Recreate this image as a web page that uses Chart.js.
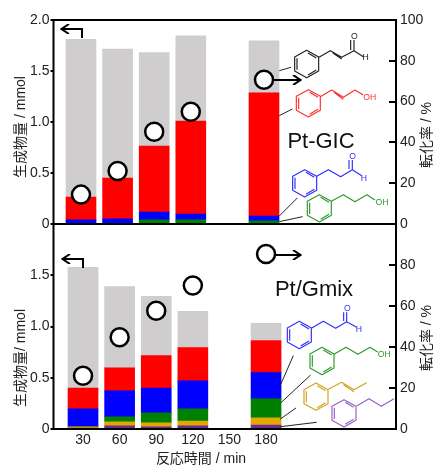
<!DOCTYPE html>
<html lang="ja">
<head>
<meta charset="utf-8">
<title>Pt-GIC / Pt/Gmix</title>
<script src="https://cdn.jsdelivr.net/npm/chart.js@4/dist/chart.umd.min.js"></script>
<style>
  html, body { margin: 0; padding: 0; background: #fff; }
  #wrap { position: relative; width: 434px; height: 465px; overflow: hidden; }
  canvas, svg { position: absolute; left: 0; }
  #chartTop { top: 0; }
  #chartBottom { top: 204px; }
  svg { top: 0; }
  .ring, .mol { fill: none; stroke-width: 3.5; stroke-linejoin: round; }
  .lead { stroke: #222; stroke-width: 3; fill: none; }
  .arrow { stroke: #000; fill: none; stroke-width: 2; }
  .atom { font: 26px "Liberation Sans", sans-serif; text-anchor: middle; stroke: none; }
  .axisTitle { font: 14px "Liberation Sans", "Noto Sans CJK JP", sans-serif; fill: #222; text-anchor: middle; }
  .catalyst { font: 22px "Liberation Sans", sans-serif; fill: #111; text-anchor: middle; }
</style>
</head>
<body>
<div id="wrap">
  <canvas id="chartTop" width="434" height="245"></canvas>
  <canvas id="chartBottom" width="434" height="261"></canvas>
  <svg width="434" height="465" viewBox="0 0 434 465">
    <defs>
      <g id="ring">
        <polygon class="ring" points="0,-41 36,-21 36,21 0,41 -36,21 -36,-21"/>
        <path class="ring" d="M-29,-17V17M4,-33L29,-18M4,33L29,18"/>
      </g>
      <marker id="head" markerWidth="10" markerHeight="10" refX="8" refY="5" orient="auto" markerUnits="userSpaceOnUse">
        <path d="M1,0L8.5,5L1,10" fill="none" stroke="#000" stroke-width="2"/>
      </marker>
    </defs>

    <!-- axis titles -->
    <text class="axisTitle" transform="translate(25,127) rotate(-90)">生成物量 / mmol</text>
    <text class="axisTitle" transform="translate(25,358) rotate(-90)">生成物量/ mmol</text>
    <text class="axisTitle" transform="translate(431,135) rotate(-90)">転化率 / %</text>
    <text class="axisTitle" transform="translate(431,338) rotate(-90)">転化率 / %</text>
    <text class="axisTitle" x="201" y="463">反応時間 / min</text>

    <!-- direction arrows -->
    <polyline class="arrow" points="82,38 82,29 62,29" marker-end="url(#head)"/>
    <polyline class="arrow" points="83,268 83,259 63,259" marker-end="url(#head)"/>
    <polyline class="arrow" points="274,80 300,80" marker-end="url(#head)"/>
    <polyline class="arrow" points="275,255 300,255" marker-end="url(#head)"/>

    <text class="catalyst" x="321" y="148">Pt-GIC</text>
    <text class="catalyst" x="314" y="296">Pt/Gmix</text>

    <!-- top panel structures -->
    <g transform="translate(220,0) scale(0.3333)">
      <g stroke="#222"><use href="#ring" x="260" y="192"/>
        <path class="mol" d="M297,172L331,152L365,172L402,152L430,170M402,152V120M392,150V120M338,158L365,177"/></g>
      <text class="atom" x="403" y="117" fill="#222">O</text>
      <text class="atom" x="437" y="181" fill="#222">H</text>
      <g stroke="#ff3030"><use href="#ring" x="265" y="310"/>
        <path class="mol" d="M301,290L335,270L370,292L405,270L430,285M342,277L370,298"/></g>
      <text class="atom" x="449" y="300" fill="#ff3030">OH</text>
      <g stroke="#3030ff"><use href="#ring" x="254" y="550"/>
        <path class="mol" d="M290,529L325,509L362,530L397,509L425,527M397,509V480M387,507V480"/></g>
      <text class="atom" x="398" y="477" fill="#3030ff">O</text>
      <text class="atom" x="432" y="542" fill="#3030ff">H</text>
      <g stroke="#2e9a2e"><use href="#ring" x="298" y="625"/>
        <path class="mol" d="M334,604L370,584L405,605L441,584L465,600"/></g>
      <text class="atom" x="486" y="615" fill="#2e9a2e">OH</text>
      <path class="lead" d="M178,212L213,202M178,347L217,327M178,648L232,594M178,665L248,650"/>
    </g>

    <!-- bottom panel structures -->
    <g transform="translate(220,225) scale(0.3333)">
      <g stroke="#3030ff"><use href="#ring" x="238" y="330"/>
        <path class="mol" d="M274,310L310,289L347,310L380,290L410,307M380,290V262M371,288V262"/></g>
      <text class="atom" x="382" y="259" fill="#3030ff">O</text>
      <text class="atom" x="417" y="322" fill="#3030ff">H</text>
      <g stroke="#2e9a2e"><use href="#ring" x="306" y="408"/>
        <path class="mol" d="M342,388L378,367L414,388L450,367L473,381"/></g>
      <text class="atom" x="493" y="397" fill="#2e9a2e">OH</text>
      <g stroke="#d6a21e"><use href="#ring" x="288" y="515"/>
        <path class="mol" d="M325,493L365,472L402,494L440,473M370,479L402,500"/></g>
      <g stroke="#9560c8"><use href="#ring" x="372" y="565"/>
        <path class="mol" d="M410,543L447,521L484,544L522,521"/></g>
      <path class="lead" d="M180,483L220,392M183,533L272,450M180,583L228,549M182,605L290,592"/>
    </g>
  </svg>
</div>

<script>
// reaction time of each bar, min
const timesTop = [30, 60, 90, 120, 180];
const timesBottom = [30, 60, 90, 120, 180];
const timeTicks = [30, 60, 90, 120, 150, 180];

// Pt-GIC, mmol per compound (stacked bottom to top)
const topPhenylpropanol = [0, 0, 0.04, 0.04, 0.03];
const topHydrocinnamaldehyde = [0.04, 0.05, 0.078, 0.058, 0.048];
const topCinnamylAlcohol = [0.225, 0.40, 0.647, 0.912, 1.207];
const topCinnamaldehyde = [1.545, 1.265, 0.915, 0.835, 0.51];
const topConversion = [14.4, 26, 45.2, 55, 70.7];

// Pt/Gmix, mmol per compound (stacked bottom to top)
const botPropylbenzene = [0.005, 0.03, 0.02, 0.03, 0.039];
const botPropenylbenzene = [0.015, 0.039, 0.039, 0.048, 0.069];
const botPhenylpropanol = [0, 0.049, 0.098, 0.118, 0.186];
const botHydrocinnamaldehyde = [0.176, 0.255, 0.243, 0.274, 0.256];
const botCinnamylAlcohol = [0.204, 0.225, 0.316, 0.324, 0.313];
const botCinnamaldehyde = [1.178, 0.792, 0.578, 0.353, 0.167];
const botConversion = [26, 44.8, 57.7, 70, 85.4];

const leftTicksTop = [0, 0.5, 1, 1.5, 2];
const leftTicksBottom = [0, 0.5, 1, 1.5];
const rightTicksTop = [0, 20, 40, 60, 80, 100];
const rightTicksBottom = [0, 20, 40, 60, 80];

const GRAY = '#cfcdce';
const RED = '#ff0000';
const BLUE = '#0000ff';
const GREEN = '#008000';
const GOLD = '#e0a800';
const PURPLE = '#6a2c91';

const tickFont = { family: '"Liberation Sans", Arial, sans-serif', size: 14 };

// Black box round the plot area
const framePlugin = {
  id: 'frame',
  afterDatasetsDraw(chart) {
    const { ctx, chartArea: a } = chart;
    ctx.save();
    ctx.strokeStyle = '#000';
    ctx.lineWidth = 2;
    ctx.strokeRect(a.left, a.top, a.right - a.left, a.bottom - a.top);
    ctx.restore();
  },
};

function setTicks(values) {
  return axis => { axis.ticks = values.map(v => ({ value: v })); };
}

function makePanel(canvasId, times, stacks, conversion, cfg) {
  const datasets = stacks.map(s => ({
    type: 'bar',
    label: s.label,
    data: times.map((t, i) => ({ x: t, y: s.values[i] })),
    backgroundColor: s.color,
    barThickness: 30,
    order: 2,
  }));

  datasets.push({
    type: 'line',
    label: '転化率',
    data: times.map((t, i) => ({ x: t, y: conversion[i] })),
    yAxisID: 'y1',
    showLine: false,
    pointRadius: 9,
    pointBorderWidth: 2.5,
    pointBackgroundColor: '#fff',
    pointBorderColor: '#000',
    clip: false,
    order: 1,
  });

  return new Chart(document.getElementById(canvasId), {
    data: { datasets },
    plugins: [framePlugin],
    options: {
      responsive: false,
      animation: false,
      layout: { autoPadding: false, padding: { top: 20 } },
      plugins: { legend: { display: false }, tooltip: { enabled: false } },
      scales: {
        x: {
          type: 'linear',
          offset: false,
          stacked: true,
          min: cfg.xMin,
          max: cfg.xMax,
          border: { display: false },
          grid: { display: false, drawTicks: false, offset: false },
          afterBuildTicks: setTicks(timeTicks),
          afterFit: axis => { axis.height = cfg.xHeight; },
          ticks: {
            display: cfg.showTimes,
            autoSkip: false,
            maxRotation: 0,
            padding: 3,
            color: '#222',
            font: tickFont,
            callback: v => String(v),
          },
        },
        y: {
          stacked: true,
          min: 0,
          max: 2,
          border: { display: false },
          grid: { drawOnChartArea: false, color: '#000', lineWidth: 2, tickLength: 3 },
          afterBuildTicks: setTicks(cfg.leftTicks),
          afterFit: axis => { axis.width = 53.5; },
          ticks: {
            padding: 1,
            color: '#222',
            font: tickFont,
            callback: v => (v === 0 ? '0' : v.toFixed(1)),
          },
        },
        y1: {
          position: 'right',
          min: 0,
          max: 100,
          border: { display: false },
          grid: { drawOnChartArea: false, color: '#000', lineWidth: 2, tickLength: -7 },
          afterBuildTicks: setTicks(cfg.rightTicks),
          afterFit: axis => { axis.width = 38; },
          ticks: { padding: 11, color: '#222', font: tickFont, callback: v => String(v) },
        },
      },
    },
  });
}

makePanel('chartTop', timesTop, [
  { label: '3-フェニル-1-プロパノール', values: topPhenylpropanol, color: GREEN },
  { label: 'ヒドロシンナムアルデヒド', values: topHydrocinnamaldehyde, color: BLUE },
  { label: 'シンナミルアルコール', values: topCinnamylAlcohol, color: RED },
  { label: 'シンナムアルデヒド', values: topCinnamaldehyde, color: GRAY },
], topConversion, {
  xHeight: 21, xMin: 7.46, xMax: 288.2, showTimes: false,
  leftTicks: leftTicksTop, rightTicks: rightTicksTop,
});

makePanel('chartBottom', timesBottom, [
  { label: 'プロピルベンゼン', values: botPropylbenzene, color: PURPLE },
  { label: 'プロペニルベンゼン', values: botPropenylbenzene, color: GOLD },
  { label: '3-フェニル-1-プロパノール', values: botPhenylpropanol, color: GREEN },
  { label: 'ヒドロシンナムアルデヒド', values: botHydrocinnamaldehyde, color: BLUE },
  { label: 'シンナミルアルコール', values: botCinnamylAlcohol, color: RED },
  { label: 'シンナムアルデヒド', values: botCinnamaldehyde, color: GRAY },
], botConversion, {
  xHeight: 36, xMin: 5.8, xMax: 286.5, showTimes: true,
  leftTicks: leftTicksBottom, rightTicks: rightTicksBottom,
});
</script>
</body>
</html>
